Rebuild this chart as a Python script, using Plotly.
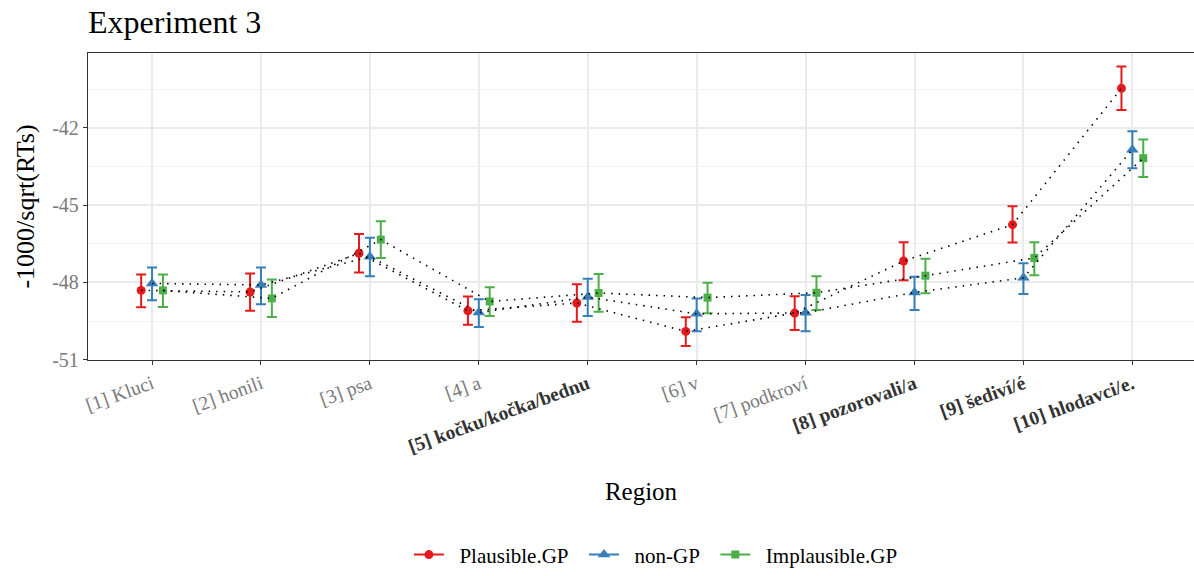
import plotly.graph_objects as go

regions = ["[1] Kluci", "[2] honili", "[3] psa", "[4] a", "[5] kočku/kočka/bednu",
           "[6] v", "[7] podkroví", "[8] pozorovali/a", "[9] šediví/é", "[10] hlodavci/e."]
bold_regions = [False, False, False, False, True, False, False, True, True, True]

conditions = ["Plausible.GP", "non-GP", "Implausible.GP"]
colors = ["#E41A1C", "#377EB8", "#4DAF4A"]
symbols = ["circle", "triangle-up", "square"]
offsets = [-0.1, 0.0, 0.1]

plausible_mean = [-48.31, -48.37, -46.87, -49.10, -48.80, -49.90, -49.19, -47.17, -45.76, -40.47]
plausible_hi   = [-47.69, -47.65, -46.12, -48.55, -48.07, -49.35, -48.54, -46.44, -45.05, -39.62]
plausible_lo   = [-48.96, -49.10, -47.62, -49.64, -49.53, -50.47, -49.85, -47.92, -46.45, -41.31]

nongp_mean = [-48.04, -48.10, -47.00, -49.17, -48.57, -49.22, -49.18, -48.39, -47.82, -42.85]
nongp_hi   = [-47.42, -47.42, -46.27, -48.65, -47.86, -48.62, -48.49, -47.78, -47.26, -42.14]
nongp_lo   = [-48.69, -48.85, -47.76, -49.73, -49.30, -49.89, -49.89, -49.07, -48.45, -43.57]

implausible_mean = [-48.31, -48.62, -46.34, -48.74, -48.41, -48.59, -48.40, -47.74, -47.05, -43.18]
implausible_hi   = [-47.69, -47.89, -45.63, -48.19, -47.67, -48.01, -47.76, -47.08, -46.44, -42.46]
implausible_lo   = [-48.95, -49.34, -47.05, -49.30, -49.14, -49.20, -49.07, -48.42, -47.72, -43.91]

y_ticks = [-51, -48, -45, -42]

series = [
    (plausible_mean, plausible_hi, plausible_lo),
    (nongp_mean, nongp_hi, nongp_lo),
    (implausible_mean, implausible_hi, implausible_lo),
]
marker_sizes = [9, 11, 8]

FONT = "Liberation Serif"
fig = go.Figure()

n = len(regions)
for k, (mean, hi, lo) in enumerate(series):
    xs = [i + 1 + offsets[k] for i in range(n)]
    fig.add_trace(go.Scatter(
        x=xs, y=mean, mode="markers", showlegend=False,
        marker=dict(color=colors[k], symbol=symbols[k], size=marker_sizes[k]),
        error_y=dict(type="data", symmetric=False,
                     array=[h - m for h, m in zip(hi, mean)],
                     arrayminus=[m - l for m, l in zip(mean, lo)],
                     color=colors[k], thickness=2, width=5),
    ))

for k, (mean, hi, lo) in enumerate(series):
    xs = [i + 1 + offsets[k] for i in range(n)]
    fig.add_trace(go.Scatter(
        x=xs, y=mean, mode="lines", showlegend=False,
        line=dict(color="black", width=1.6, dash="1.5px,6px"), hoverinfo="skip",
    ))

NB = "\u00a0"
for k in range(3):
    fig.add_trace(go.Scatter(
        x=[None], y=[None], mode="lines+markers",
        name=NB * 2 + conditions[k] + NB * 2,
        line=dict(color=colors[k], width=2),
        marker=dict(color=colors[k], symbol=symbols[k], size=marker_sizes[k]),
    ))

ticktext = []
for r, b in zip(regions, bold_regions):
    if b:
        ticktext.append("<b><span style='color:#333333'>%s</span></b>" % r)
    else:
        ticktext.append("<span style='color:#7A7A7A'>%s</span>" % r)

fig.update_layout(
    width=1194, height=576,
    margin=dict(l=88, r=0, t=53, b=214),
    paper_bgcolor="white", plot_bgcolor="white",
    font=dict(family=FONT, color="black"),
    title=dict(text="Experiment 3", x=0, xref="paper", xanchor="left",
               y=0.962, yanchor="middle", font=dict(size=32, family=FONT, color="black")),
    legend=dict(orientation="h", x=0.518, xanchor="center", y=-0.635, yanchor="middle",
                font=dict(size=21, family=FONT, color="black"), itemwidth=30,
                bgcolor="rgba(0,0,0,0)"),
    xaxis=dict(
        range=[0.412, 10.566], tickmode="array",
        tickvals=list(range(1, n + 1)), ticktext=ticktext, tickangle=-20,
        tickfont=dict(size=19.5, family=FONT),
        showgrid=True, gridcolor="#EBEBEB", gridwidth=2,
        showline=True, linecolor="#333333", linewidth=1.3, mirror=True,
        ticks="outside", ticklen=4, tickcolor="#333333", tickwidth=1.3,
        zeroline=False,
        title=dict(text="Region", font=dict(size=25, family=FONT, color="black"), standoff=26),
    ),
    yaxis=dict(
        range=[-51.01, -39.1], tickmode="array", tickvals=y_ticks,
        ticktext=[str(v) for v in y_ticks],
        tickfont=dict(size=20, family=FONT, color="#7A7A7A"),
        showgrid=True, gridcolor="#EBEBEB", gridwidth=2,
        minor=dict(tickmode="array", tickvals=[-49.5, -46.5, -43.5, -40.5],
                   showgrid=True, gridcolor="#F2F2F2", gridwidth=1, ticks=""),
        showline=True, linecolor="#333333", linewidth=1.3, mirror=False,
        ticks="outside", ticklen=4, tickcolor="#333333", tickwidth=1.3,
        zeroline=False,
        title=dict(text="-1000/sqrt(RTs)", font=dict(size=26, family=FONT, color="black"), standoff=10),
    ),
)

fig.write_html("out.html")
